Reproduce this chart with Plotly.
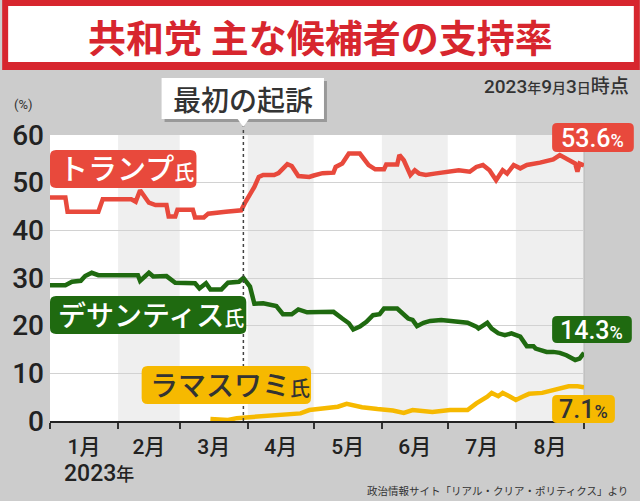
import plotly.graph_objects as go

# ---------------- data ----------------
trump_dates = ["2023-01-01","2023-01-08","2023-01-09","2023-01-23","2023-01-25","2023-02-07","2023-02-09",
               "2023-02-11","2023-02-15","2023-02-18","2023-02-23","2023-02-24","2023-02-27","2023-02-28",
               "2023-03-07","2023-03-08","2023-03-12","2023-03-14","2023-03-22","2023-03-29","2023-03-31",
               "2023-04-04","2023-04-06","2023-04-08","2023-04-13","2023-04-15","2023-04-19","2023-04-21",
               "2023-04-24","2023-04-29","2023-05-01","2023-05-05","2023-05-10","2023-05-11","2023-05-14",
               "2023-05-17","2023-05-22","2023-05-26","2023-05-29","2023-06-02","2023-06-03","2023-06-08",
               "2023-06-09","2023-06-11","2023-06-14","2023-06-16","2023-06-18","2023-06-21","2023-06-25",
               "2023-07-02","2023-07-06","2023-07-11","2023-07-14","2023-07-17","2023-07-20","2023-07-23",
               "2023-07-26","2023-07-28","2023-07-31","2023-08-03","2023-08-06","2023-08-12","2023-08-18",
               "2023-08-21","2023-08-24","2023-08-28","2023-08-29","2023-08-30","2023-09-01"]
trump_vals = [46.9,46.9,43.9,43.9,46.5,46.5,46.0,
              48.4,45.8,45.3,45.3,42.9,42.9,44.3,
              44.3,42.7,42.7,43.5,43.9,44.2,46.0,
              49.1,51.2,51.6,51.6,52.0,53.9,53.5,
              51.4,51.2,51.5,52.0,52.1,53.3,54.0,
              56.1,56.1,53.7,52.8,52.8,53.8,53.8,
              55.8,54.7,51.6,52.6,51.9,51.6,51.9,
              52.3,52.6,52.3,53.3,53.7,52.6,50.5,
              52.6,51.9,53.7,53.0,53.7,54.2,54.9,
              55.8,55.1,54.0,52.3,54.0,53.6]

desantis_dates = ["2023-01-01","2023-01-08","2023-01-11","2023-01-15","2023-01-17","2023-01-20","2023-01-23",
                  "2023-02-10","2023-02-11","2023-02-15","2023-02-17","2023-02-23","2023-02-27","2023-03-08",
                  "2023-03-10","2023-03-13","2023-03-15","2023-03-20","2023-03-23","2023-03-28","2023-03-30",
                  "2023-04-02","2023-04-04","2023-04-08","2023-04-14","2023-04-17","2023-04-21","2023-04-24",
                  "2023-04-28","2023-05-10","2023-05-14","2023-05-17","2023-05-19","2023-05-22","2023-05-25",
                  "2023-05-28","2023-05-31","2023-06-02","2023-06-08","2023-06-11","2023-06-13","2023-06-15",
                  "2023-06-17","2023-06-20","2023-06-23","2023-06-28","2023-07-04","2023-07-10","2023-07-14",
                  "2023-07-15","2023-07-19","2023-07-21","2023-07-24","2023-07-27","2023-07-30","2023-08-03",
                  "2023-08-06","2023-08-09","2023-08-10","2023-08-15","2023-08-18","2023-08-21","2023-08-24",
                  "2023-08-28","2023-08-30","2023-09-01"]
desantis_vals = [28.5,28.5,29.2,29.4,30.4,31.1,30.6,
                 30.6,29.4,31.1,30.3,30.4,29.0,28.9,
                 27.8,28.9,27.6,27.6,29.0,29.2,30.0,
                 28.2,24.6,24.7,24.1,22.4,22.4,23.4,
                 22.8,22.9,21.5,20.5,19.2,19.8,20.8,
                 22.2,22.4,23.6,23.6,22.2,21.5,21.2,
                 19.9,20.6,21.0,21.2,20.8,20.6,19.8,
                 19.4,20.6,19.4,18.4,18.0,18.4,17.7,
                 15.7,15.7,15.2,14.5,14.5,14.3,13.8,
                 12.8,13.1,14.3]

rama_dates = ["2023-03-15","2023-03-23","2023-03-27","2023-03-30","2023-04-17","2023-04-25","2023-04-29",
              "2023-05-08","2023-05-12","2023-05-16","2023-05-19","2023-05-23","2023-05-30","2023-06-06",
              "2023-06-11","2023-06-15","2023-06-24","2023-07-02","2023-07-10","2023-07-14","2023-07-19",
              "2023-07-21","2023-07-24","2023-07-26","2023-07-29","2023-08-01","2023-08-04","2023-08-07",
              "2023-08-13","2023-08-19","2023-08-25","2023-08-29","2023-09-01"]
rama_vals = [0.4,0.2,0.6,0.7,1.1,1.6,2.3,
             2.7,3.0,3.6,3.3,2.9,2.5,2.2,
             1.7,2.3,1.9,2.3,2.3,3.7,5.1,
             5.9,5.2,5.9,5.2,4.4,5.1,5.7,
             5.9,6.6,7.3,7.3,7.1]

names = ["トランプ", "デサンティス", "ラマスワミ"]
latest = ["53.6", "14.3", "7.1"]
month_starts = ["2023-01-01","2023-02-01","2023-03-01","2023-04-01","2023-05-01",
                "2023-06-01","2023-07-01","2023-08-01","2023-09-01"]
indictment_date = "2023-03-30"

# ---------------- style ----------------
RED, GREEN, YELLOW = "#e8493c", "#1f6a10", "#f6b900"
TITLE_RED = "#d7262e"
BG = "#cccccc"
FONT = "Roboto, 'Noto Sans CJK JP', sans-serif"
JFONT = "'Noto Sans CJK JP', sans-serif"

L, R, T, B = 48, 584, 135, 421
W, H = R - L, B - T
def PX(x): return (x - L) / W
def PY(y): return (B - y) / H

def rrect(x0, y0, x1, y1, r):
    pts = lambda x, y: f"{PX(x):.5f},{PY(y):.5f}"
    return (f"M {pts(x0+r,y0)} L {pts(x1-r,y0)} Q {pts(x1,y0)} {pts(x1,y0+r)} "
            f"L {pts(x1,y1-r)} Q {pts(x1,y1)} {pts(x1-r,y1)} L {pts(x0+r,y1)} "
            f"Q {pts(x0,y1)} {pts(x0,y1-r)} L {pts(x0,y0+r)} Q {pts(x0,y0)} {pts(x0+r,y0)} Z")

fig = go.Figure()
for d, v, c in [(trump_dates, trump_vals, RED), (desantis_dates, desantis_vals, GREEN), (rama_dates, rama_vals, YELLOW)]:
    fig.add_trace(go.Scatter(x=d, y=v, mode="lines", line=dict(color=c, width=4.5),
                             hoverinfo="skip", showlegend=False))

shapes = []
# month bands
for i in (1, 3, 5, 7):
    shapes.append(dict(type="rect", xref="x", yref="paper", x0=month_starts[i], x1=month_starts[i+1],
                       y0=0, y1=1, fillcolor="#efefef", line=dict(width=0), layer="below"))
# right border
shapes.append(dict(type="line", xref="paper", yref="paper", x0=1, x1=1, y0=0, y1=1,
                   line=dict(color="#b5b5b5", width=1), layer="between"))
# indictment dashed line
shapes.append(dict(type="line", xref="x", yref="paper", x0=indictment_date, x1=indictment_date,
                   y0=0, y1=PY(124), line=dict(color="#444444", width=1.5, dash="dot")))
# title frame
shapes.append(dict(type="rect", xref="paper", yref="paper", x0=PX(0), x1=PX(640), y0=PY(0), y1=PY(70),
                   fillcolor=TITLE_RED, line=dict(width=0)))
shapes.append(dict(type="rect", xref="paper", yref="paper", x0=PX(6), x1=PX(634), y0=PY(6), y1=PY(62),
                   fillcolor="white", line=dict(width=0)))
# callout shadow + box + pointer
shapes.append(dict(type="rect", xref="paper", yref="paper", x0=PX(163), x1=PX(326), y0=PY(81), y1=PY(122),
                   fillcolor="rgba(0,0,0,0.25)", line=dict(width=0)))
shapes.append(dict(type="rect", xref="paper", yref="paper", x0=PX(160), x1=PX(323), y0=PY(78), y1=PY(119),
                   fillcolor="white", line=dict(width=0)))
shapes.append(dict(type="path", xref="paper", yref="paper",
                   path=f"M {PX(236)},{PY(118.5)} L {PX(248)},{PY(118.5)} L {PX(242)},{PY(127)} Z",
                   fillcolor="white", line=dict(width=0)))
# name label boxes
shapes.append(dict(type="path", xref="paper", yref="paper", path=rrect(48, 150, 195, 188, 6), fillcolor=RED, line=dict(width=0)))
shapes.append(dict(type="path", xref="paper", yref="paper", path=rrect(48, 296, 245, 334, 6), fillcolor=GREEN, line=dict(width=0)))
shapes.append(dict(type="path", xref="paper", yref="paper", path=rrect(140, 366, 310, 404, 6), fillcolor=YELLOW, line=dict(width=0)))
# value label boxes
shapes.append(dict(type="path", xref="paper", yref="paper", path=rrect(552, 123, 634, 152, 5), fillcolor=RED, line=dict(width=0)))
shapes.append(dict(type="path", xref="paper", yref="paper", path=rrect(552, 316, 632, 343, 5), fillcolor=GREEN, line=dict(width=0)))
shapes.append(dict(type="path", xref="paper", yref="paper", path=rrect(552, 395, 615, 423, 5), fillcolor=YELLOW, line=dict(width=0)))

def ann(text, x, y, size, color, xanchor="left", family=FONT, weight="normal", style="normal"):
    return dict(text=text, xref="paper", yref="paper", x=PX(x), y=PY(y), xanchor=xanchor, yanchor="middle",
                showarrow=False, font=dict(family=family, size=size, color=color, weight=weight, style=style))

small = lambda t, s: f"<span style='font-size:{s}px'>{t}</span>"
annotations = [
    ann("共和党 主な候補者の支持率", 320, 36, 38, TITLE_RED, "center", JFONT, "bold"),
    ann("NHK", 634, 15, 22, "rgba(255,255,255,0.75)", "right", "Roboto, sans-serif", "bold", "italic"),
    ann("2023" + small("年", 14) + "9" + small("月", 14) + "3" + small("日", 14) + "時点", 631, 86, 19, "#333333", "right", FONT, 500),
    ann("最初の起訴", 241.5, 99, 28, "#333333", "center", JFONT, 500),
    ann("(%)", 10, 104, 13, "#333333", "left"),
    ann(names[0] + small("氏", 20), 55, 170, 29, "white", "left", FONT, 500),
    ann(names[1] + small("氏", 20), 54, 316, 28, "white", "left", FONT, 500),
    ann(names[2] + small("氏", 20), 146, 386, 28, "#333333", "left", FONT, 500),
    ann(latest[0] + small("%", 18), 593, 138, 25, "white", "center", FONT, 500),
    ann(latest[1] + small("%", 18), 592, 330, 25, "white", "center", FONT, 500),
    ann(latest[2] + small("%", 18), 583.5, 409.5, 25, "#333333", "center", FONT, 500),
    ann("2023" + small("年", 18), 60, 473, 23, "#222222", "left", FONT, 500),
    ann("政治情報サイト「リアル・クリア・ポリティクス」より", 630, 490, 10.5, "#333333", "right", JFONT),
]

fig.update_layout(
    width=640, height=501,
    margin=dict(l=L, r=640 - R, t=T, b=501 - B, pad=0),
    paper_bgcolor=BG, plot_bgcolor="white",
    font=dict(family=FONT, color="#222222"),
    shapes=shapes, annotations=annotations,
    xaxis=dict(type="date", range=[month_starts[0], month_starts[-1]], tick0=month_starts[0], dtick="M1",
               ticklabelmode="period", tickformat="%-m月", showgrid=False, showline=True,
               linecolor="#222222", linewidth=1.5, ticks="outside", ticklen=6, tickwidth=1.5,
               tickcolor="#333333", tickfont=dict(size=21, color="#222222", weight=500), fixedrange=True),
    yaxis=dict(range=[0, 60], tickvals=[0, 10, 20, 30, 40, 50, 60], showgrid=True, gridcolor="#d2d2d2",
               gridwidth=1, zeroline=False, showline=False, ticks="", ticklabelstandoff=5,
               tickfont=dict(size=28, color="#222222", weight=500), fixedrange=True),
)

fig.write_html("out.html")
